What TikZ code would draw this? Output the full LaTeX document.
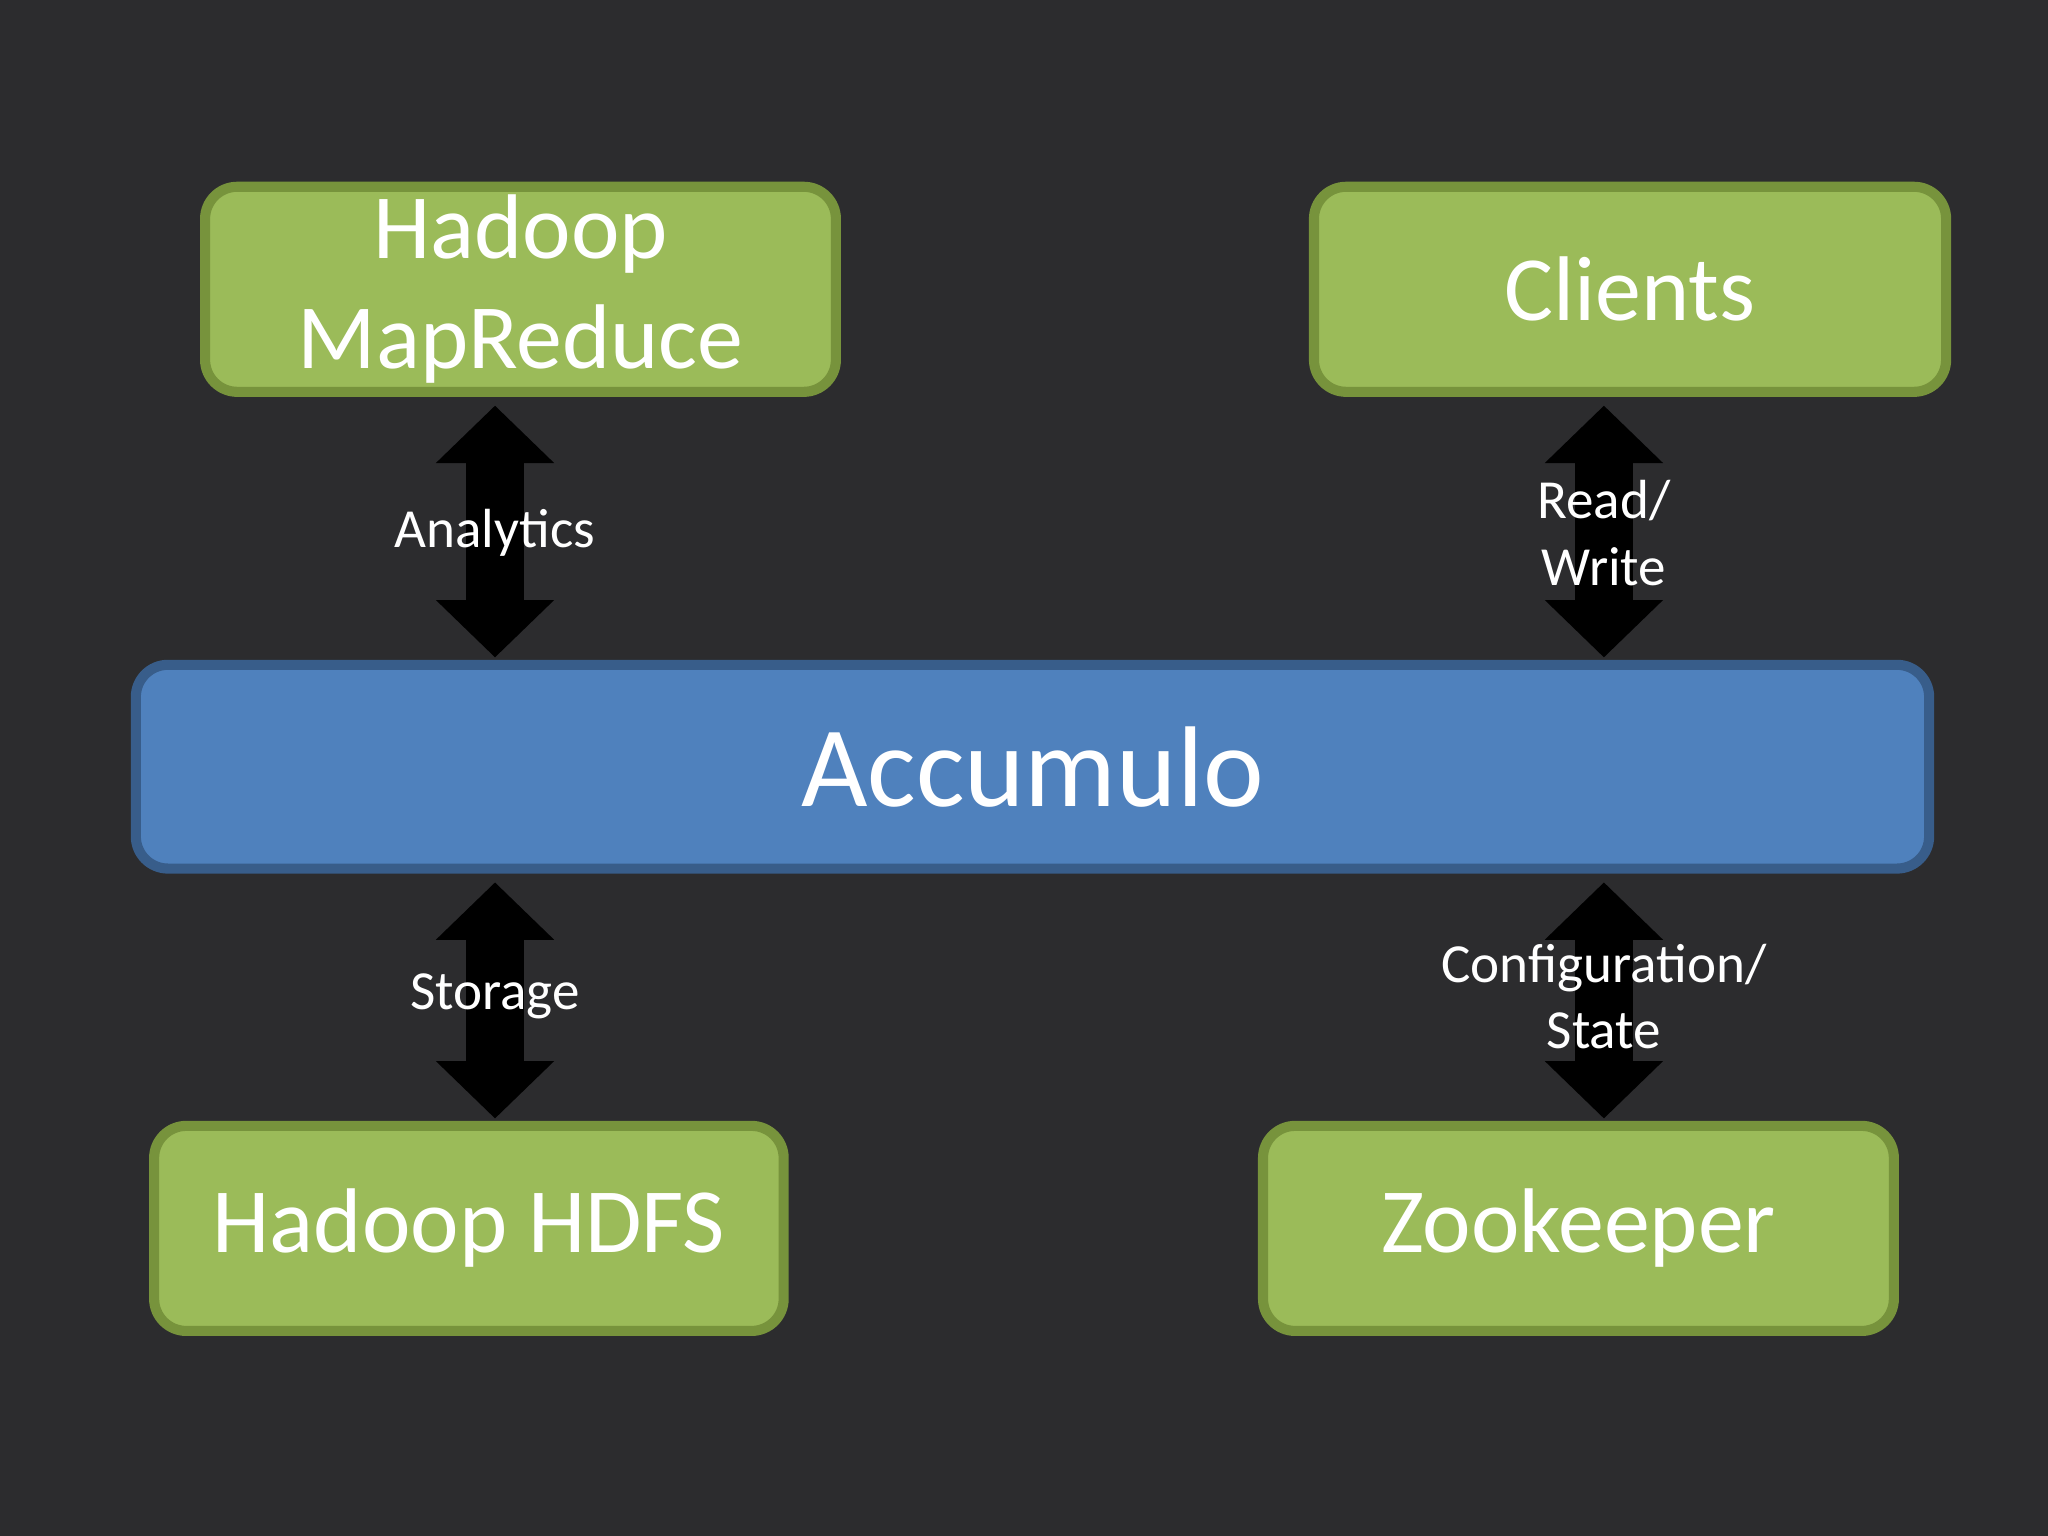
\documentclass[tikz,border=0pt]{standalone}
\usepackage{fontspec}
\setmainfont{Carlito}
\usetikzlibrary{arrows.meta}
\definecolor{bg}{HTML}{2C2C2E}
\definecolor{grn}{HTML}{9BBB59}
\definecolor{grnb}{HTML}{77933C}
\definecolor{blu}{HTML}{4F81BD}
\definecolor{blub}{HTML}{385D8A}
\tikzset{
 gbox/.style={draw=grnb,fill=grn,line width=2.2pt,rounded corners=7pt,text=white,font=\fontsize{20}{24}\selectfont,align=center,inner sep=0pt},
 bbox/.style={draw=blub,fill=blu,line width=2.2pt,rounded corners=7pt,text=white,font=\fontsize{25}{30}\selectfont,inner sep=0pt},
 fat/.style={line width=12.5pt,black,{Triangle[width=25pt,length=12.5pt]}-{Triangle[width=25pt,length=12.5pt]},shorten >=1.6pt,shorten <=3pt},
 lbl/.style={text=white,font=\fontsize{12}{14.5}\selectfont,align=center}
}
\begin{document}
\begin{tikzpicture}[x=0.01cm,y=-0.01cm]
\fill[bg] (0,0) rectangle (1568,1176);
\useasboundingbox (0,0) rectangle (1568,1176);
\node[gbox,minimum width=483*0.01cm,minimum height=157*0.01cm] (mr) at (398.5,221.5) {Hadoop\\MapReduce};
\node[gbox,minimum width=484*0.01cm,minimum height=157*0.01cm] (cl) at (1248,221.5) {Clients};
\node[bbox,minimum width=1373*0.01cm,minimum height=156*0.01cm] (ac) at (790.5,587) {Accumulo};
\node[gbox,minimum width=482*0.01cm,minimum height=157*0.01cm] (hd) at (359,940.5) {Hadoop HDFS};
\node[gbox,minimum width=483*0.01cm,minimum height=157*0.01cm] (zk) at (1208.5,940.5) {Zookeeper};
\coordinate (a1) at (379,300); \coordinate (a2) at (379,509);
\coordinate (b1) at (1228,300); \coordinate (b2) at (1228,509);
\coordinate (c1) at (379,665); \coordinate (c2) at (379,862);
\coordinate (d1) at (1228,665); \coordinate (d2) at (1228,862);
\draw[fat] (a1) -- (a2);
\draw[fat] (b1) -- (b2);
\draw[fat] (c1) -- (c2);
\draw[fat] (d1) -- (d2);
\node[lbl] (la) at (379,408) {Analytics};
\node[lbl] (lb) at (1228,408) {Read/\\Write};
\node[lbl] (lc) at (379,763) {Storage};
\node[lbl] (ld) at (1228,763) {Configuration/\\State};
\end{tikzpicture}
\end{document}
